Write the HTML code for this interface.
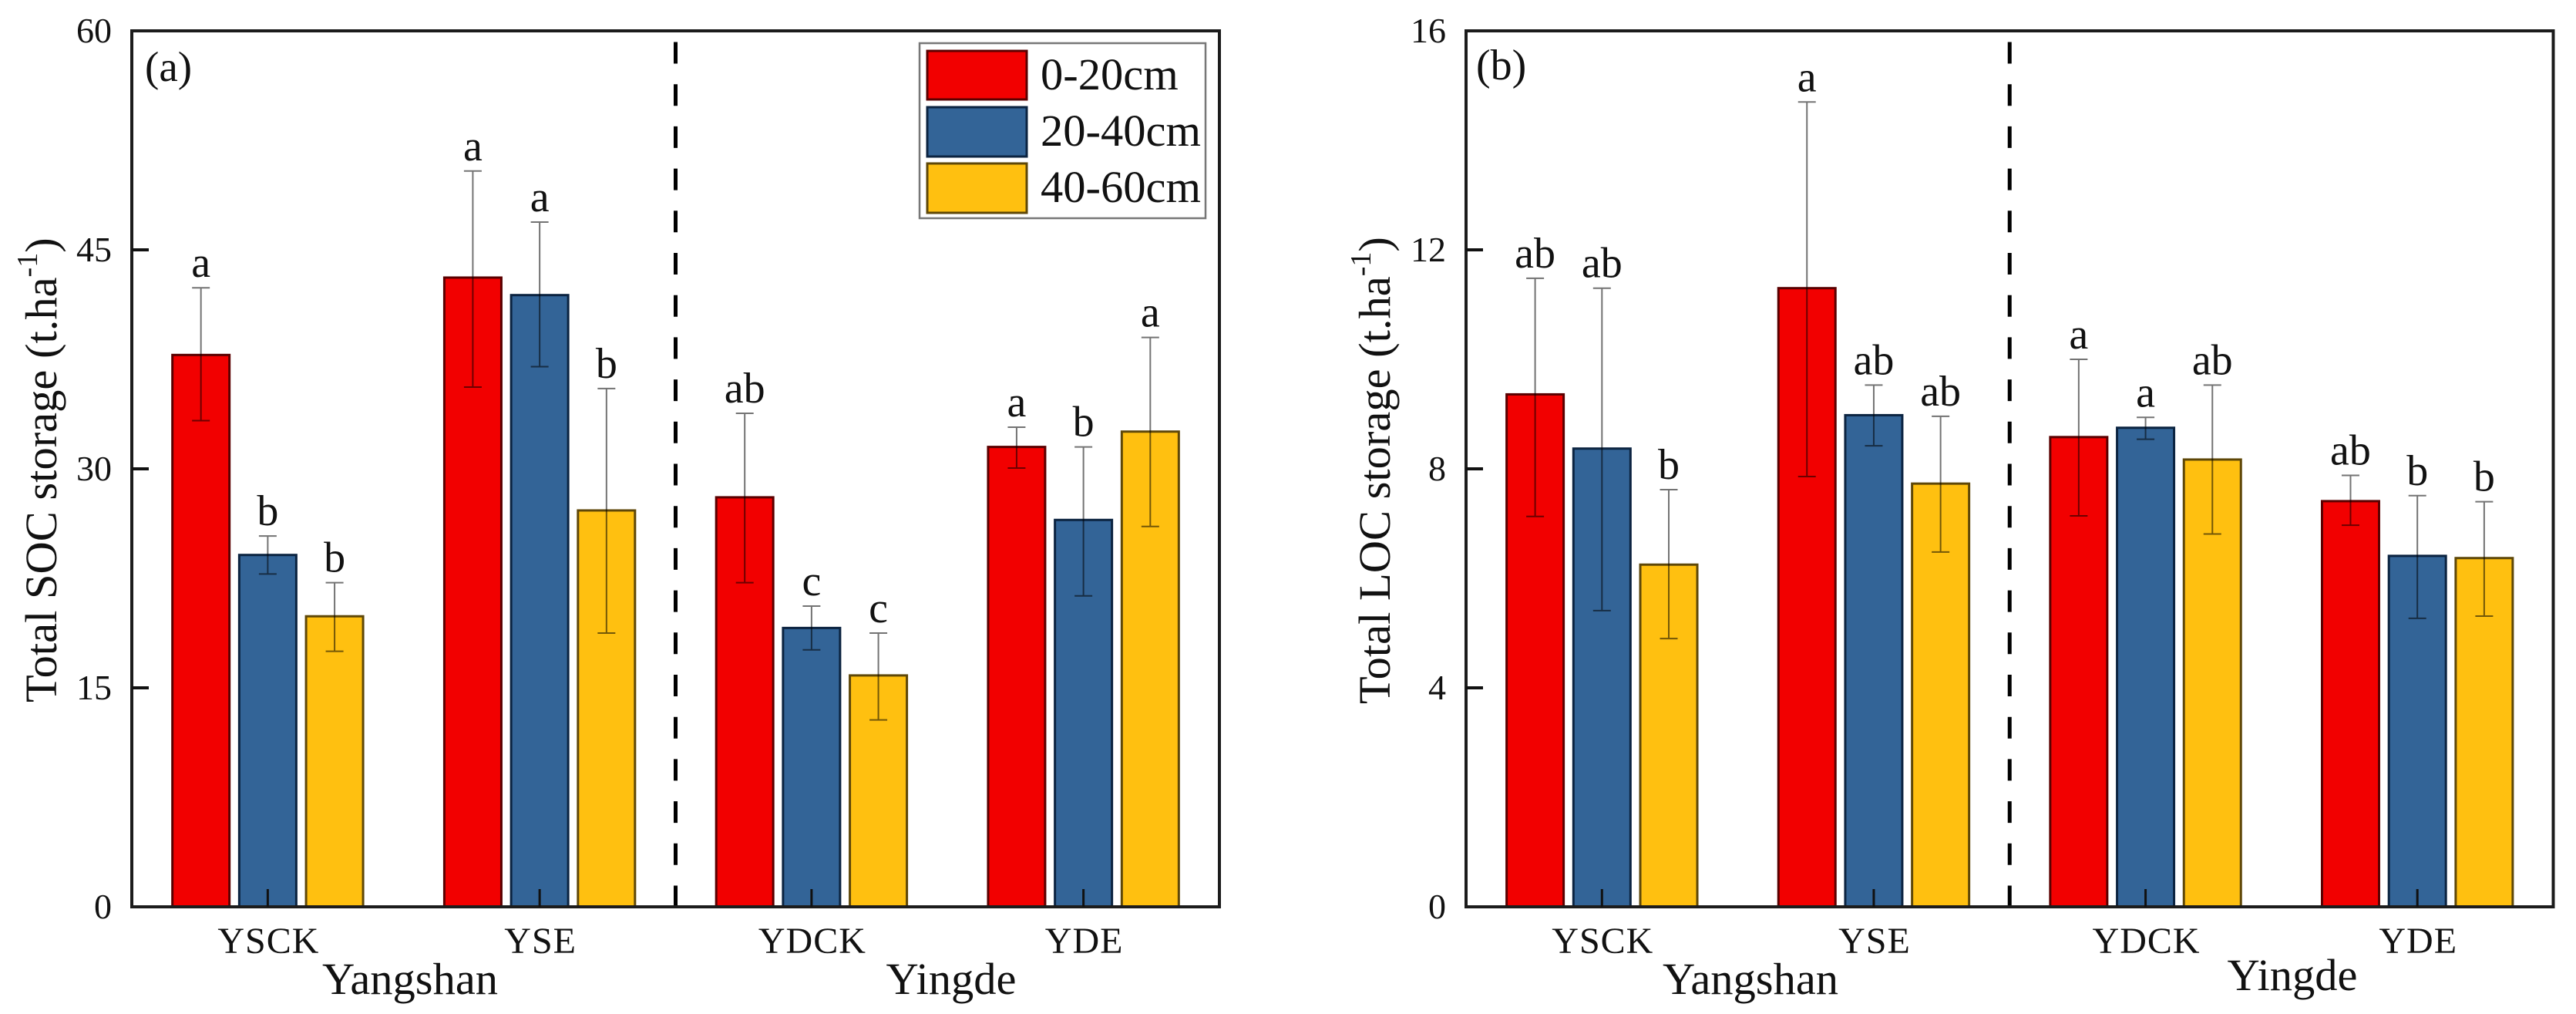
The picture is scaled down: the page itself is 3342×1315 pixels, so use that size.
<!DOCTYPE html>
<html lang="en">
<head>
<meta charset="utf-8">
<title>Total SOC and LOC storage</title>
<style>
  html, body { margin: 0; padding: 0; background: #fff; }
  body { width: 3342px; height: 1315px; overflow: hidden; }
  svg { display: block; }
  text { font-family: "Liberation Serif", serif; fill: #111; }
</style>
</head>
<body>
<svg id="figure" xmlns="http://www.w3.org/2000/svg" width="3342" height="1315" viewBox="0 0 3342 1315">
  <rect width="3342" height="1315" fill="#fff"></rect>
  <g id="panel-a"></g>
  <g id="panel-b"></g>

  <text x="188" y="105" font-size="55">(a)</text>
  <text x="1915" y="103" font-size="56">(b)</text>

  <text transform="translate(73,911) rotate(-90)" font-size="58.5">Total SOC storage (t.ha<tspan dy="-25" font-size="38">-1</tspan><tspan dy="25">)</tspan></text>
  <text transform="translate(1803,913) rotate(-90)" font-size="58.5">Total LOC storage (t.ha<tspan dy="-25" font-size="38">-1</tspan><tspan dy="25">)</tspan></text>

  <text x="532" y="1289" font-size="58.5" text-anchor="middle">Yangshan</text>
  <text x="1234" y="1289" font-size="58.5" text-anchor="middle">Yingde</text>
  <text x="2271" y="1289" font-size="58.5" text-anchor="middle">Yangshan</text>
  <text x="2974" y="1284" font-size="58.5" text-anchor="middle">Yingde</text>

  <g>
    <rect x="1193" y="56" width="371" height="227" fill="#fff" stroke="#777" stroke-width="2.5"></rect>
    <g>
      <rect x="1203" y="66" width="129" height="63" fill="#f20000" stroke="#5a0000" stroke-width="3"></rect>
      <text x="1350" y="116" font-size="58.5">0-20cm</text>
    </g>
    <g>
      <rect x="1203" y="139" width="129" height="64" fill="#336497" stroke="#0b2340" stroke-width="3"></rect>
      <text x="1350" y="189" font-size="58.5">20-40cm</text>
    </g>
    <g>
      <rect x="1203" y="212" width="129" height="64" fill="#ffc010" stroke="#5e4708" stroke-width="3"></rect>
      <text x="1350" y="262" font-size="58.5">40-60cm</text>
    </g>
  </g>
</svg>

<script>
// ---------- shared data ----------
const categories = ['YSCK', 'YSE', 'YDCK', 'YDE'];
const depths = ['0-20cm', '20-40cm', '40-60cm'];

// ---------- panel (a): Total SOC storage ----------
const socTickLabels = [0, 15, 30, 45, 60];
const socMean0to20 = [37.8, 43.1, 28.05, 31.5];
const socMean20to40 = [24.1, 41.9, 19.1, 26.5];
const socMean40to60 = [19.9, 27.15, 15.85, 32.55];
const socUpper0to20 = [42.4, 50.4, 33.8, 32.85];
const socUpper20to40 = [25.4, 46.9, 20.6, 31.5];
const socUpper40to60 = [22.2, 35.5, 18.75, 39.0];
const socLower0to20 = [33.3, 35.6, 22.2, 30.05];
const socLower20to40 = [22.8, 37.0, 17.6, 21.3];
const socLower40to60 = [17.5, 18.75, 12.8, 26.05];
const socLetters0to20 = ['a', 'a', 'ab', 'a'];
const socLetters20to40 = ['b', 'a', 'c', 'b'];
const socLetters40to60 = ['b', 'b', 'c', 'a'];

// ---------- panel (b): Total LOC storage ----------
const locTickLabels = [0, 4, 8, 12, 16];
const locMean0to20 = [9.36, 11.3, 8.58, 7.41];
const locMean20to40 = [8.37, 8.98, 8.75, 6.41];
const locMean40to60 = [6.25, 7.73, 8.17, 6.37];
const locUpper0to20 = [11.48, 14.7, 10.0, 7.88];
const locUpper20to40 = [11.3, 9.53, 8.94, 7.51];
const locUpper40to60 = [7.62, 8.96, 9.53, 7.4];
const locLower0to20 = [7.13, 7.86, 7.14, 6.97];
const locLower20to40 = [5.41, 8.42, 8.54, 5.27];
const locLower40to60 = [4.9, 6.48, 6.81, 5.31];
const locLetters0to20 = ['ab', 'a', 'a', 'ab'];
const locLetters20to40 = ['ab', 'ab', 'a', 'b'];
const locLetters40to60 = ['b', 'ab', 'ab', 'b'];

// ---------- drawing ----------
const SVG_NS = 'http://www.w3.org/2000/svg';
const plotTop = 40;
const plotBottom = 1176;
const barWidth = 74;
const barOffset = 86.7;
const fills = ['#f20000', '#336497', '#ffc010'];
const edges = ['#5a0000', '#0b2340', '#5e4708'];

function make(tag, attrs, parent) {
  const el = document.createElementNS(SVG_NS, tag);
  for (const key in attrs) el.setAttribute(key, attrs[key]);
  parent.appendChild(el);
  return el;
}

function drawPanel(cfg) {
  const root = document.getElementById(cfg.id);
  const left = cfg.left;
  const right = cfg.right;
  const maxTick = cfg.ticks[cfg.ticks.length - 1];
  const yAxis = v => plotBottom - (v / maxTick) * (plotBottom - plotTop);
  const xAxis = i => left + (i + 0.5) * (right - left) / categories.length;

  // bars, error bars, significance letters
  cfg.means.forEach((series, s) => {
    const seriesGroup = make('g', {}, root);
    
    
    series.forEach((value, c) => {
      const cx = xAxis(c) + (s - 1) * barOffset;
      const top = yAxis(value);
      const bar = make('rect', {
        x: cx - barWidth / 2, y: top, width: barWidth, height: plotBottom - top,
        fill: fills[s], stroke: edges[s], 'stroke-width': 3
      }, seriesGroup);
      
      
    });
  });

  cfg.means.forEach((series, s) => {
    series.forEach((value, c) => {
      const cx = xAxis(c) + (s - 1) * barOffset;
      const up = yAxis(cfg.upper[s][c]);
      const low = yAxis(cfg.lower[s][c]);
      const err = make('path', {
        d: 'M' + cx + ' ' + up + 'V' + low + 'M' + (cx - 11.5) + ' ' + up + 'H' + (cx + 11.5) + 'M' + (cx - 11.5) + ' ' + low + 'H' + (cx + 11.5),
        fill: 'none', stroke: '#000', 'stroke-opacity': 0.55, 'stroke-width': 2
      }, root);
      
      

      const letter = make('text', {
        x: cx, y: up - 14, 'font-size': 56, 'text-anchor': 'middle'
      }, root);
      letter.textContent = cfg.letters[s][c];
      
      
    });
  });

  // dashed divider
  const midX = (left + right) / 2;
  const divider = make('line', {
    x1: midX, x2: midX, y1: plotTop + 14.5, y2: plotBottom,
    stroke: '#000', 'stroke-width': 5, 'stroke-dasharray': '28 26.7'
  }, root);
  
  

  // frame
  const frame = make('rect', {
    x: left, y: plotTop, width: right - left, height: plotBottom - plotTop,
    fill: 'none', stroke: '#1c1c1c', 'stroke-width': 4
  }, root);
  
  

  // y ticks
  cfg.ticks.forEach(t => {
    const y = yAxis(t);
    if (t !== 0 && t !== maxTick) {
      const tick = make('line', {
        x1: left, x2: left + 22, y1: y, y2: y, stroke: '#111', 'stroke-width': 4
      }, root);
      
      
    }
    const label = make('text', {
      x: left - 26, y: y + 15, 'font-size': 46, 'text-anchor': 'end'
    }, root);
    label.textContent = t;
    
    
  });

  // x ticks
  categories.forEach((name, c) => {
    const x = xAxis(c);
    const tick = make('line', {
      x1: x, x2: x, y1: plotBottom - 23, y2: plotBottom, stroke: '#111', 'stroke-width': 3
    }, root);
    
    
    const label = make('text', {
      x: x + 1, y: 1236, 'font-size': 48, 'text-anchor': 'middle', 'letter-spacing': 1
    }, root);
    label.textContent = name;
    
    
  });
}

drawPanel({
  id: 'panel-a', prefix: 'soc', left: 171, right: 1582, ticks: socTickLabels,
  means: [socMean0to20, socMean20to40, socMean40to60],
  upper: [socUpper0to20, socUpper20to40, socUpper40to60],
  lower: [socLower0to20, socLower20to40, socLower40to60],
  letters: [socLetters0to20, socLetters20to40, socLetters40to60]
});

drawPanel({
  id: 'panel-b', prefix: 'loc', left: 1902, right: 3312.5, ticks: locTickLabels,
  means: [locMean0to20, locMean20to40, locMean40to60],
  upper: [locUpper0to20, locUpper20to40, locUpper40to60],
  lower: [locLower0to20, locLower20to40, locLower40to60],
  letters: [locLetters0to20, locLetters20to40, locLetters40to60]
});
</script>
</body>
</html>
